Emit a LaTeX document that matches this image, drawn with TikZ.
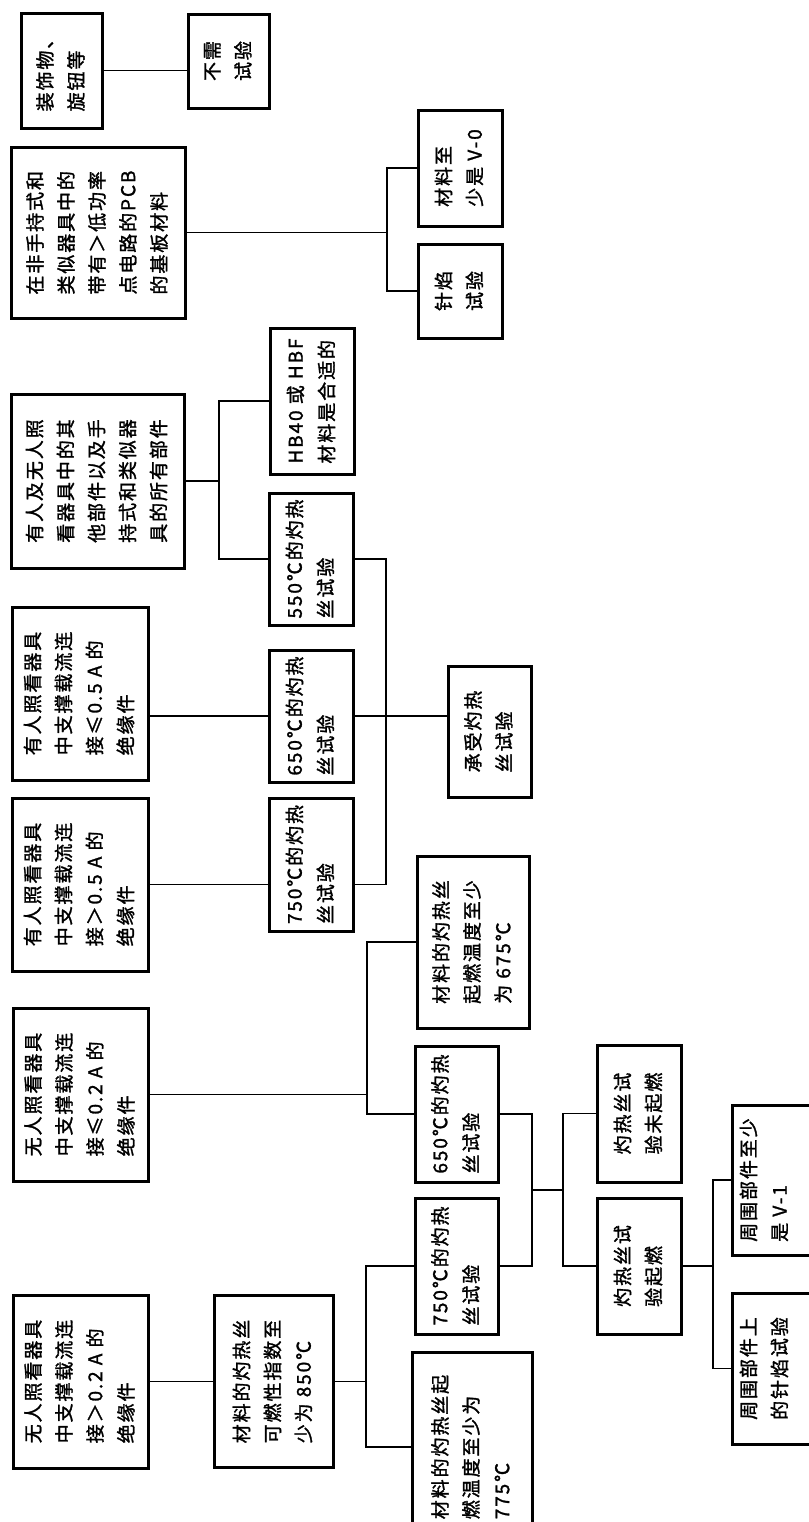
\documentclass[tikz,border=0pt]{standalone}
\usepackage{fontspec}
\usepackage{graphicx}
\newfontfamily\cjk[LetterSpace=10,FakeBold=1.5]{Noto Sans CJK SC}
\usetikzlibrary{calc}

\newcommand{\vt}[1]{\rotatebox{90}{\begin{tabular}{@{}l@{}}#1\end{tabular}}}

\tikzset{
	bx/.style 2 args={draw,line width=1.5pt,minimum width=#1*0.5pt,minimum height=#2*0.5pt,inner sep=0pt,
		font=\cjk\fontsize{9.5}{15.5}\selectfont},
	ln/.style={line width=0.6pt}
}

\begin{document}
\begin{tikzpicture}[x=0.5pt,y=-0.5pt]
	\useasboundingbox (0,0) rectangle (809,1522);
	\clip (0,0) rectangle (809,1522);
	
	%decorations
	\node[bx={81}{115}] (deco) at (61.5,70.5) {\vt{装饰物、\\旋钮等}};
	\node[bx={81}{94}] (notest) at (228.5,61) {\vt{不需\\试验}};
	\draw[ln] (deco.east) -- (deco.east -| notest.west);
	
	%pcb
	\node[bx={174}{171}] (pcb) at (98,232.5) {\vt{在非手持式和\\类似器具中的\\带有＞低功率\\点电路的PCB\\的基板材料}};
	\node[bx={84}{116}] (vzero) at (460,168) {\vt{材料至\\少是 V-0}};
	\node[bx={84}{94}] (needle) at (460,291) {\vt{针焰\\试验}};
	\coordinate (jpcb) at (pcb.east -| 387,0);
	\draw[ln] (pcb.east) -- (jpcb);
	\draw[ln] (vzero.west) -| (jpcb) |- (needle.west);
	
	%other parts
	\node[bx={173}{174}] (other) at (97.5,481) {\vt{有人及无人照\\看器具中的其\\他部件以及手\\持式和类似器\\具的所有部件}};
	\node[bx={84}{146}] (hb) at (312,401) {\vt{HB40 或 HBF\\材料是合适的}};
	\node[bx={84}{132}] (gwa) at (311,559) {\vt{550℃的灼热\\丝试验}};
	\coordinate (jother) at (other.east -| 219,0);
	\draw[ln] (other.east) -- (jother);
	\draw[ln] (hb.west) -| (jother) |- (gwa.west);
	
	%attended
	\node[bx={136}{173}] (attlow) at (80,693.5) {\vt{有人照看器具\\中支撑载流连\\接≤0.5 A 的\\绝缘件}};
	\node[bx={136}{173}] (atthigh) at (80,884.5) {\vt{有人照看器具\\中支撑载流连\\接＞0.5 A 的\\绝缘件}};
	\node[bx={84}{132}] (gwb) at (311,716) {\vt{650℃的灼热\\丝试验}};
	\node[bx={84}{133}] (gwc) at (311,864.5) {\vt{750℃的灼热\\丝试验}};
	\node[bx={83}{131}] (accept) at (489.5,731.5) {\vt{承受灼热\\丝试验}};
	\draw[ln] (attlow.east |- gwb.west) -- (gwb.west);
	\draw[ln] (atthigh.east) -- (atthigh.east -| gwc.west);
	\draw[ln] (gwb.east) -- (gwb.east -| accept.west);
	\coordinate (jtop) at (gwa.east -| 386,0);
	\coordinate (jbot) at (atthigh.east -| 386,0);
	\draw[ln] (gwa.east) -- (jtop) -- (jbot) -- (gwc.east |- jbot);
	
	%unattended, <= 0.2 A
	\node[bx={135}{173}] (unlow) at (80.5,1094.5) {\vt{无人照看器具\\中支撑载流连\\接≤0.2 A 的\\绝缘件}};
	\node[bx={112}{172}] (ignd) at (473,942) {\vt{材料的灼热丝\\起燃温度至少\\为 675℃}};
	\node[bx={83}{136}] (gwd) at (456.5,1114) {\vt{650℃的灼热\\丝试验}};
	\coordinate (junlow) at (unlow.east -| 367,0);
	\draw[ln] (unlow.east) -- (junlow);
	\draw[ln] (ignd.west) -| (junlow) |- (gwd.west);
	
	%unattended, > 0.2 A
	\node[bx={135}{173}] (unhigh) at (80.5,1381.5) {\vt{无人照看器具\\中支撑载流连\\接＞0.2 A 的\\绝缘件}};
	\node[bx={119}{172}] (gwfi) at (273.5,1381.5) {\vt{材料的灼热丝\\可燃性指数至\\少为 850℃}};
	\node[bx={83}{136}] (gwe) at (456.5,1266) {\vt{750℃的灼热\\丝试验}};
	\node[bx={120}{190}] (igne) at (472,1447) {\vt{材料的灼热丝起\\燃温度至少为\\775℃}\hspace*{0pt}};
	\draw[ln] (unhigh) -- (gwfi);
	\coordinate (jfi) at (gwfi.east -| 366,0);
	\draw[ln] (gwfi.east) -- (jfi);
	\draw[ln] (gwe.west) -| (jfi) |- (igne.west);
	
	%results
	\coordinate (jres) at (532,1190);
	\coordinate (jout) at (563,1190);
	\draw[ln] (gwd.east) -| (jres) |- (gwe.east);
	\draw[ln] (jres) -- (jout);
	\node[bx={84}{137}] (noign) at (639,1113.5) {\vt{灼热丝试\\验未起燃}};
	\node[bx={84}{136}] (ign) at (639,1266) {\vt{灼热丝试\\验起燃}};
	\draw[ln] (noign.west) -| (jout) |- (ign.west);
	
	%surrounding parts
	\node[bx={150}{150}] (vone) at (807,1180) {\vt{周围部件至少\\是 V-1}\hspace*{42pt}};
	\node[bx={150}{151}] (nfsur) at (807,1368.5) {\vt{周围部件上\\的针焰试验}\hspace*{42pt}};
	\coordinate (jign) at (ign.east -| 713,0);
	\draw[ln] (ign.east) -- (jign);
	\draw[ln] (vone.west) -| (jign) |- (nfsur.west);
\end{tikzpicture}
\end{document}
